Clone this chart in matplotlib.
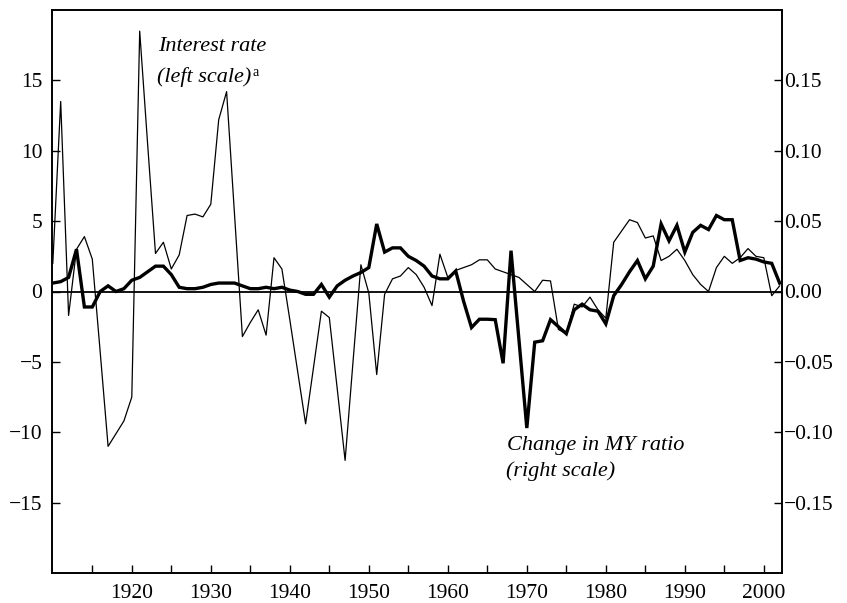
import matplotlib
matplotlib.use("Agg")
import matplotlib.pyplot as plt
from matplotlib.ticker import FixedLocator

plt.rcParams['font.family'] = ['Liberation Serif', 'DejaVu Serif']
plt.rcParams['font.size'] = 15.5

# years 1910-2002
years = list(range(1910, 2003))

# interest rate, left scale
interest = [2.0, 13.5, -1.7, 3.0, 3.9, 2.3, -4.3, -11.0, -10.1, -9.2,
            -7.5, 18.5, 10.5, 2.7, 3.5, 1.6, 2.6, 5.4, 5.5, 5.3,
            6.2, 12.2, 14.2, 5.5, -3.2, -2.2, -1.3, -3.1, 2.4, 1.6,
            -2.0, -5.7, -9.4, -5.4, -1.4, -1.85, -6.9, -12.0, -5.0, 1.9,
            -0.1, -5.9, -0.2, 0.9, 1.1, 1.7, 1.2, 0.3, -1.0, 2.65,
            1.0, 1.5, 1.7, 1.9, 2.25, 2.25, 1.6, 1.4, 1.2, 1.0,
            0.5, 0.0, 0.8, 0.75, -2.7, -3.0, -0.9, -1.1, -0.4, -1.3,
            -1.9, 3.5, 4.3, 5.1, 4.9, 3.8, 3.95, 2.2, 2.5, 3.0,
            2.2, 1.2, 0.5, 0.0, 1.7, 2.5, 2.0, 2.4, 3.05, 2.5,
            2.4, -0.3, 0.4]

# change in MY ratio, right scale
my_change = [0.006, 0.007, 0.010, 0.030, -0.011, -0.011, 0.000, 0.004, 0.000, 0.002,
             0.008, 0.010, 0.014, 0.018, 0.018, 0.012, 0.003, 0.002, 0.002, 0.003,
             0.005, 0.006, 0.006, 0.006, 0.004, 0.002, 0.002, 0.003, 0.002, 0.003,
             0.001, 0.000, -0.002, -0.002, 0.005, -0.004, 0.004, 0.008, 0.011, 0.0135,
             0.017, 0.048, 0.028, 0.031, 0.031, 0.025, 0.022, 0.018, 0.011, 0.009,
             0.009, 0.0146, -0.007, -0.0256, -0.0197, -0.0197, -0.020, -0.051, 0.029, -0.034,
             -0.097, -0.036, -0.035, -0.020, -0.025, -0.030, -0.013, -0.009, -0.013, -0.014,
             -0.023, -0.003, 0.005, 0.014, 0.022, 0.009, 0.018, 0.048, 0.036, 0.047,
             0.028, 0.042, 0.047, 0.044, 0.054, 0.051, 0.051, 0.022, 0.024, 0.023,
             0.021, 0.020, 0.006]

left_ticks = [-15, -10, -5, 0, 5, 10, 15]
right_ticks = [-0.15, -0.10, -0.05, 0.00, 0.05, 0.10, 0.15]
decades = [1920, 1930, 1940, 1950, 1960, 1970, 1980, 1990, 2000]

fig = plt.figure(figsize=(8.47, 6.03), dpi=100)
ax = fig.add_axes([52/847, 1 - 573/603, 730/847, 563/603])
ax2 = ax.twinx()

ax.plot(years, interest, color='black', lw=0.9)
ax.axhline(0, color='black', lw=1.3)
ax2.plot(years, my_change, color='black', lw=2.4, solid_joinstyle='miter')

ax.set_xlim(1909.9, 2002.3)
ax.set_ylim(-20, 20)
ax2.set_ylim(-0.2, 0.2)

ax.set_xticks(decades)
ax.set_xticklabels([str(d) for d in decades])
ax.xaxis.set_minor_locator(FixedLocator([d - 5 for d in decades]))
ax.set_yticks(left_ticks)
ax.set_yticklabels([('\u2212' if t < 0 else '') + str(abs(t)) for t in left_ticks])
ax2.set_yticks(right_ticks)
ax2.set_yticklabels([('\u2212' if t < 0 else '') + '%.2f' % abs(t) for t in right_ticks])

ax.tick_params(axis='x', which='both', direction='in', length=6, width=1, pad=8, top=False)
ax.tick_params(axis='y', direction='in', length=6, width=1, pad=7, right=False)
ax2.tick_params(axis='y', direction='in', length=6, width=1, pad=1.5)

for a in (ax, ax2):
    for s in a.spines.values():
        s.set_linewidth(1.2)

ax.text(0.1452, 0.927, 'Interest rate', transform=ax.transAxes,
        style='italic', fontsize=16, va='baseline')
t = ax.text(0.144, 0.872, '(left scale)', transform=ax.transAxes,
            style='italic', fontsize=16, va='baseline')
ax.annotate('a', xy=(1, 0.72), xycoords=t, xytext=(1, 0), textcoords='offset points',
            fontsize=10, va='center', ha='left')

ax.text(0.623, 0.2185, 'Change in MY ratio', transform=ax.transAxes,
        style='italic', fontsize=16, va='baseline')
ax.text(0.6215, 0.172, '(right scale)', transform=ax.transAxes,
        style='italic', fontsize=16, va='baseline')

fig.savefig('out.png', dpi=100)
